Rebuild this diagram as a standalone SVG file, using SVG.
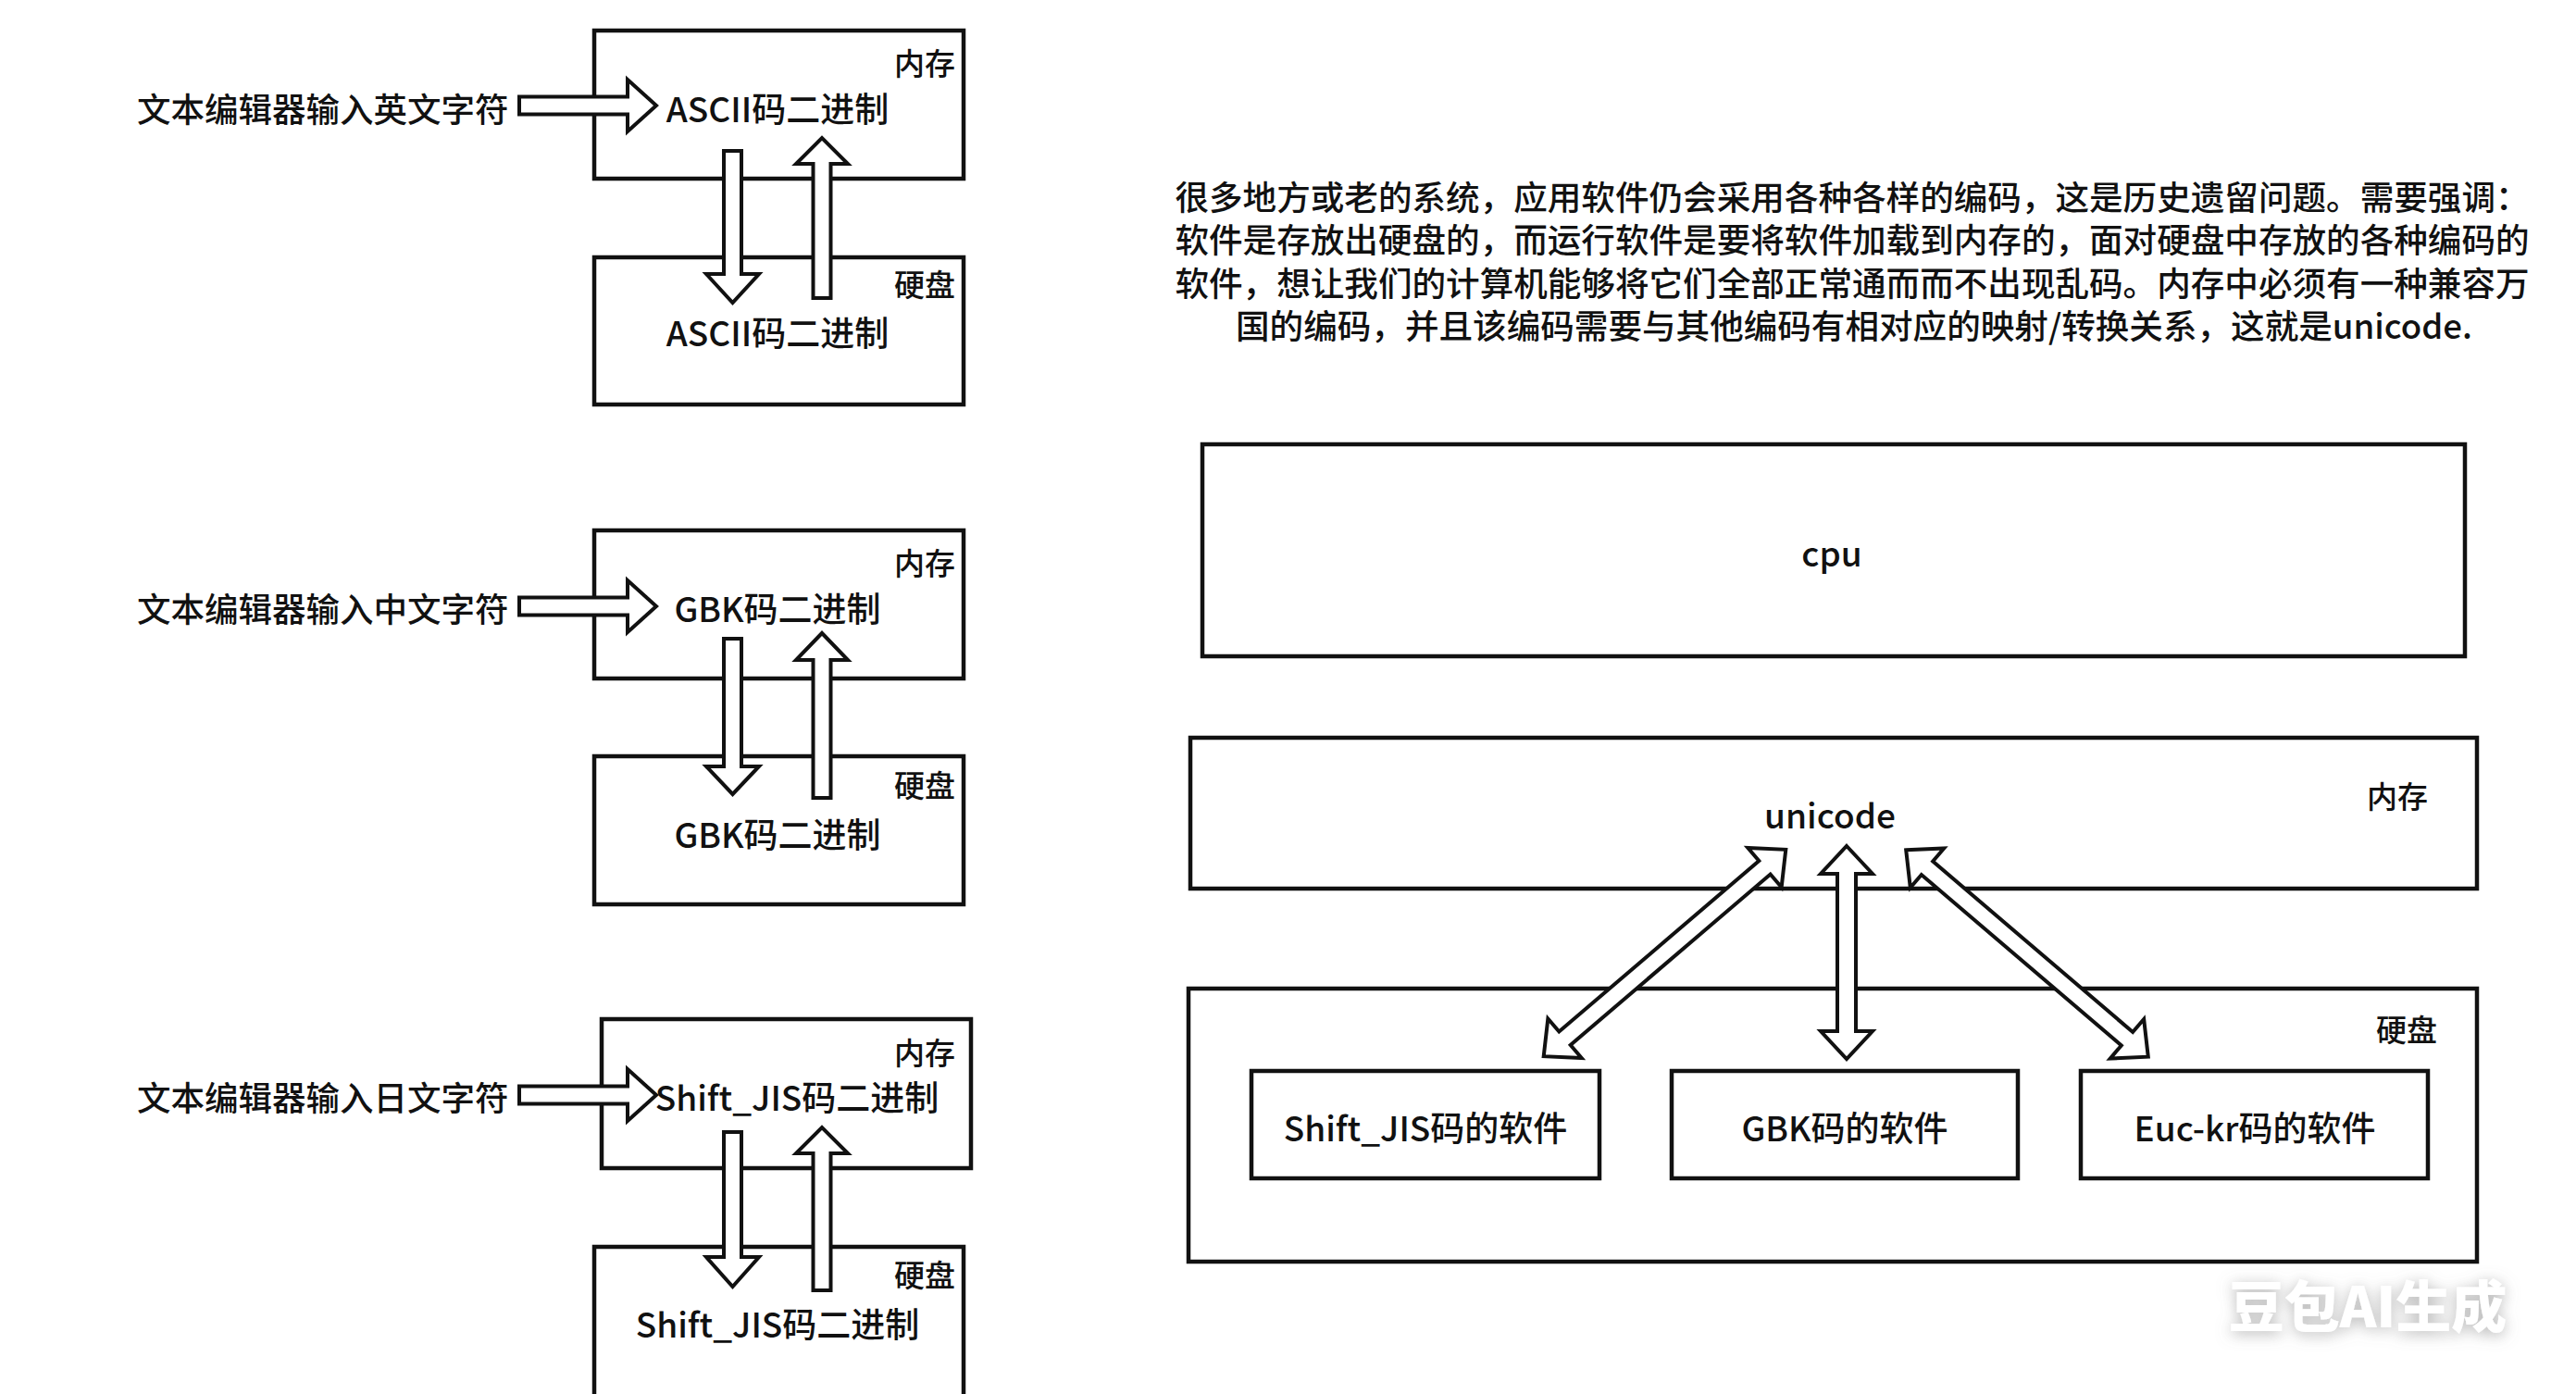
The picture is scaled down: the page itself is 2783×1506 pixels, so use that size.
<svg xmlns="http://www.w3.org/2000/svg" width="2783" height="1506" viewBox="0 0 2783 1506">
<style>
.box{fill:#fff;stroke:#111;stroke-width:4.5}
.arr{fill:#fff;stroke:#111;stroke-width:4;stroke-linejoin:miter}
.t{font-family:"Noto Sans CJK SC","Noto Sans",sans-serif;font-weight:500;fill:#111;dominant-baseline:central}
.m{font-size:37px;text-anchor:middle}
.l{font-size:36.5px}
.c{font-size:33px;text-anchor:middle}
.p{font-size:36.6px;text-anchor:middle}
.wm{font-family:"Noto Sans CJK SC",sans-serif;font-weight:900;font-size:60px;fill:#fff;text-anchor:middle;dominant-baseline:central}
</style>
<defs>
<filter id="glow" x="-20%" y="-40%" width="140%" height="180%">
<feDropShadow dx="0" dy="3" stdDeviation="8" flood-color="#777" flood-opacity="0.55"/>
</filter>
</defs>
<rect x="0" y="0" width="2783" height="1506" fill="#fff"/>

<!-- left column: ASCII -->
<g id="label-en"><text class="t l" x="148" y="116">文本编辑器输入英文字符</text></g>
<g id="mem-ascii"><rect class="box" x="642" y="33" width="399" height="160"/>
<text class="t c" x="999" y="67">内存</text>
<text class="t m" x="840" y="116">ASCII码二进制</text></g>
<g id="disk-ascii"><rect class="box" x="642" y="278" width="399" height="159"/>
<text class="t c" x="999" y="306">硬盘</text>
<text class="t m" x="840" y="358">ASCII码二进制</text></g>

<!-- left column: GBK -->
<g id="label-zh"><text class="t l" x="148" y="656">文本编辑器输入中文字符</text></g>
<g id="mem-gbk"><rect class="box" x="642" y="573" width="399" height="160"/>
<text class="t c" x="999" y="607">内存</text>
<text class="t m" x="840" y="656">GBK码二进制</text></g>
<g id="disk-gbk"><rect class="box" x="642" y="817" width="399" height="160"/>
<text class="t c" x="999" y="847">硬盘</text>
<text class="t m" x="840" y="900">GBK码二进制</text></g>

<!-- left column: Shift_JIS -->
<g id="label-ja"><text class="t l" x="148" y="1184">文本编辑器输入日文字符</text></g>
<g id="mem-sjis"><rect class="box" x="650" y="1101" width="399" height="161"/>
<text class="t c" x="999" y="1136">内存</text>
<text class="t m" x="861" y="1184">Shift_JIS码二进制</text></g>
<g id="disk-sjis"><rect class="box" x="642" y="1347" width="399" height="200"/>
<text class="t c" x="999" y="1376">硬盘</text>
<text class="t m" x="840" y="1429">Shift_JIS码二进制</text></g>

<!-- right side -->
<g id="note">
<text class="t p"><tspan x="2001" y="211">很多地方或老的系统，应用软件仍会采用各种各样的编码，这是历史遗留问题。需要强调：</tspan><tspan x="2001" y="257">软件是存放出硬盘的，而运行软件是要将软件加载到内存的，面对硬盘中存放的各种编码的</tspan><tspan x="2001" y="304">软件，想让我们的计算机能够将它们全部正常通而而不出现乱码。内存中必须有一种兼容万</tspan><tspan x="2003" y="350">国的编码，并且该编码需要与其他编码有相对应的映射/转换关系，这就是unicode.</tspan></text>
</g>
<g id="cpu"><rect class="box" x="1299" y="480" width="1364" height="229"/>
<text class="t m" x="1979" y="596">cpu</text></g>
<g id="memory"><rect class="box" x="1286" y="797" width="1390" height="163"/>
<text class="t c" x="2590" y="859">内存</text>
<text class="t m" x="1977" y="879">unicode</text></g>
<g id="disk"><rect class="box" x="1284" y="1068" width="1392" height="295"/>
<text class="t c" x="2600" y="1111">硬盘</text></g>
<g id="sw-sjis"><rect class="box" x="1352" y="1157" width="376" height="116"/>
<text class="t m" x="1540" y="1217">Shift_JIS码的软件</text></g>
<g id="sw-gbk"><rect class="box" x="1806" y="1157" width="374" height="116"/>
<text class="t m" x="1993" y="1217">GBK码的软件</text></g>
<g id="sw-euckr"><rect class="box" x="2248" y="1157" width="375" height="116"/>
<text class="t m" x="2436" y="1217">Euc-kr码的软件</text></g>

<g id="connectors">
<!-- ASCII -->
<path class="arr" d="M561,104.5 H678 V86 L709,114 L678,142 V123.5 H561 Z"/>
<path class="arr" d="M782,163 H801 V296 H820 L791.5,327 L763,296 H782 Z"/>
<path class="arr" d="M878.5,322 V177 H860 L888,149 L916,177 H897.5 V322 Z"/>
<!-- GBK -->
<path class="arr" d="M561,645.5 H678 V627 L709,655 L678,683 V664.5 H561 Z"/>
<path class="arr" d="M782,690 H801 V828 H820 L791.5,858 L763,828 H782 Z"/>
<path class="arr" d="M878.5,862 V713 H860 L888,684 L916,713 H897.5 V862 Z"/>
<!-- Shift_JIS -->
<path class="arr" d="M561,1173.5 H678 V1155 L709,1183 L678,1211 V1192.5 H561 Z"/>
<path class="arr" d="M782,1223 H801 V1358 H820 L791.5,1390 L763,1358 H782 Z"/>
<path class="arr" d="M878.5,1394 V1246 H860 L888,1218 L916,1246 H897.5 V1394 Z"/>
<!-- unicode double arrows -->
<path class="arr" transform="translate(1798.5,1029.5) rotate(-40.5)" d="M-172,0 L-142,-28 V-9.5 H142 V-28 L172,0 L142,28 V9.5 H-142 V28 Z"/>
<path class="arr" transform="translate(1995,1029) rotate(90)" d="M-115,0 L-85,-28 V-10 H85 V-28 L115,0 L85,28 V10 H-85 V28 Z"/>
<path class="arr" transform="translate(2190,1030) rotate(40.5)" d="M-172,0 L-142,-28 V-9.5 H142 V-28 L172,0 L142,28 V9.5 H-142 V28 Z"/>
</g>

<text class="wm" x="2558" y="1407" filter="url(#glow)">豆包AI生成</text>
</svg>
